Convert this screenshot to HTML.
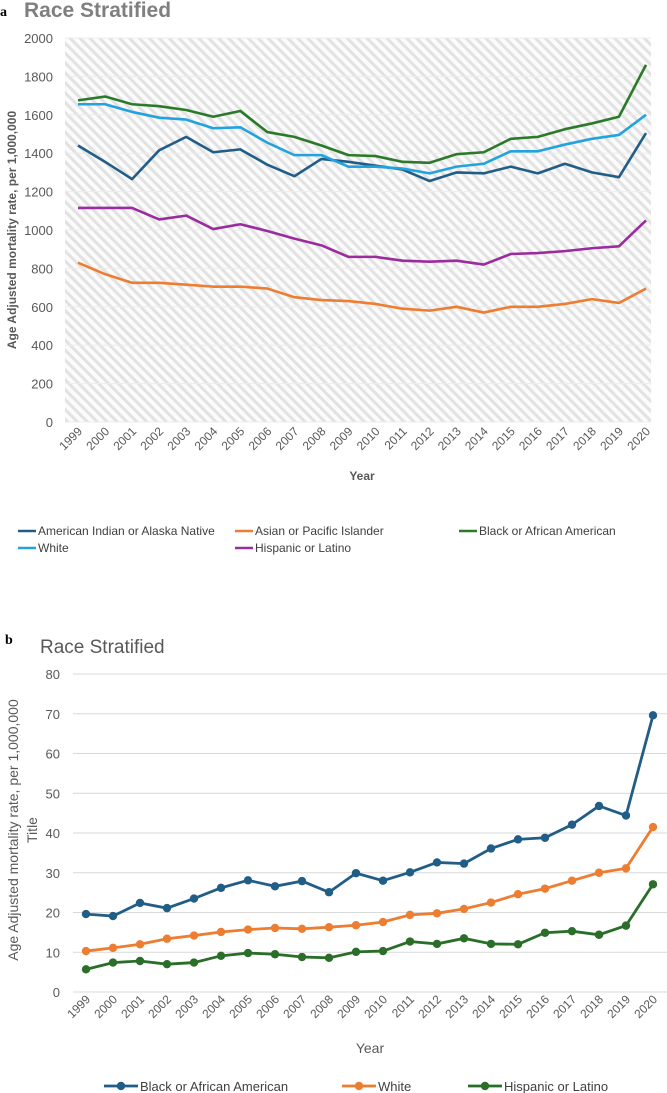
<!DOCTYPE html>
<html><head><meta charset="utf-8"><style>
body{margin:0;background:#fff;font-family:"Liberation Sans",sans-serif}
svg{display:block}
</style></head><body>
<svg id="s" width="667" height="1093" xmlns="http://www.w3.org/2000/svg">
<defs><pattern id="hatch" width="7" height="7" patternUnits="userSpaceOnUse" patternTransform="rotate(-45)">
<rect width="7" height="7" fill="#fbfbfb"/><rect x="0" y="0" width="3" height="7" fill="#e2e2e2"/></pattern></defs>
<text x="0" y="16" font-family="Liberation Serif" font-weight="bold" font-size="14" fill="#000">a</text>
<text x="24" y="17" font-size="21" font-weight="bold" fill="#7f7f7f">Race Stratified</text>
<text x="5" y="644" font-family="Liberation Serif" font-weight="bold" font-size="14" fill="#000">b</text>
<text x="40" y="653" font-size="19" fill="#595959">Race Stratified</text>
<g id="ga"></g><g id="gb"></g>
</svg>
<script>
const years=["1999","2000","2001","2002","2003","2004","2005","2006","2007","2008","2009","2010","2011","2012","2013","2014","2015","2016","2017","2018","2019","2020"];
const ticksA=[0,200,400,600,800,1000,1200,1400,1600,1800,2000];
const aian=[1440,1355,1265,1415,1485,1405,1420,1340,1280,1370,1355,1335,1315,1255,1300,1295,1330,1295,1345,1300,1275,1505];
const asian=[830,770,725,725,715,705,705,695,650,635,630,615,590,580,600,570,600,600,615,640,620,695];
const blackA=[1675,1695,1655,1645,1625,1590,1620,1510,1485,1440,1390,1385,1355,1350,1395,1405,1475,1485,1525,1555,1590,1860];
const whiteA=[1655,1655,1615,1585,1575,1530,1535,1455,1390,1390,1330,1330,1320,1295,1330,1345,1410,1410,1445,1475,1495,1600];
const hispA=[1115,1115,1115,1055,1075,1005,1030,995,955,920,860,860,840,835,840,820,875,880,890,905,915,1050];
const ticksB=[0,10,20,30,40,50,60,70,80];
const blackB=[19.6,19.1,22.4,21.1,23.5,26.2,28.1,26.6,27.9,25.1,29.9,28.0,30.1,32.6,32.3,36.1,38.4,38.8,42.1,46.8,44.4,69.6];
const whiteB=[10.3,11.1,12.0,13.4,14.2,15.1,15.7,16.1,15.9,16.3,16.8,17.6,19.4,19.8,20.9,22.5,24.6,26.0,28.0,30.0,31.1,41.5];
const hispB=[5.7,7.4,7.8,7.0,7.4,9.1,9.8,9.5,8.8,8.6,10.1,10.3,12.7,12.1,13.5,12.1,12.0,14.9,15.3,14.4,16.7,27.1];
const NS="http://www.w3.org/2000/svg";
function mk(p,t,a,txt){const e=document.createElementNS(NS,t);for(const k in a)e.setAttribute(k,a[k]);if(txt!=null)e.textContent=txt;p.appendChild(e);return e;}
// chart A
const ga=document.getElementById('ga');
const xa=i=>78+i*(646-78)/21, ya=v=>422-v*(422-38)/2000;
let e=mk(ga,'rect',{x:65,y:38,width:586,height:384,fill:'url(#hatch)'});

ticksA.forEach(t=>{e=mk(ga,'line',{x1:65,x2:651,y1:ya(t),y2:ya(t),stroke:'#ececec','stroke-width':1});

e=mk(ga,'text',{x:53,y:ya(t)+5,'text-anchor':'end','font-size':13,fill:'#595959'},t);
});
years.forEach((y,i)=>{e=mk(ga,'text',{x:0,y:0,'text-anchor':'end','font-size':12,fill:'#595959',transform:`translate(${xa(i)+5},${432}) rotate(-45)`},y);
});
e=mk(ga,'text',{x:362,y:480,'text-anchor':'middle','font-size':12,'font-weight':'bold',fill:'#595959'},'Year');

e=mk(ga,'text',{x:0,y:0,'text-anchor':'middle','font-size':12,'font-weight':'bold',fill:'#595959',transform:'translate(16,230) rotate(-90)'},'Age Adjusted mortality rate, per 1,000,000');

const serA=[[aian,'#215e87','american-indian'],[asian,'#ed7d31','asian-pacific'],[hispA,'#9b2c9d','hispanic'],[whiteA,'#22a3de','white'],[blackA,'#2a7a2a','black']];
serA.forEach(([d,c,n])=>{e=mk(ga,'polyline',{points:d.map((v,i)=>xa(i)+','+ya(v)).join(' '),fill:'none',stroke:c,'stroke-width':2.6,'stroke-linejoin':'round'});
});
const legA=[[18,531,'#215e87','American Indian or Alaska Native'],[235,531,'#ed7d31','Asian or Pacific Islander'],[459,531,'#2a7a2a','Black or African American'],[18,548,'#22a3de','White'],[235,548,'#9b2c9d','Hispanic or Latino']];
legA.forEach(([x,y,c,t])=>{const g=mk(ga,'g',{});
mk(g,'line',{x1:x,x2:x+18,y1:y,y2:y,stroke:c,'stroke-width':2.6});mk(g,'text',{x:x+20,y:y+4,'font-size':12,fill:'#404040'},t);});
// chart B
const gb=document.getElementById('gb');
const xb=i=>86+i*(653-86)/21, yb=v=>992-v*(992-674)/80;
ticksB.forEach(t=>{e=mk(gb,'line',{x1:73,x2:667,y1:yb(t),y2:yb(t),stroke:'#d9d9d9','stroke-width':1});

e=mk(gb,'text',{x:60,y:yb(t)+5,'text-anchor':'end','font-size':13,fill:'#595959'},t);
});
years.forEach((y,i)=>{e=mk(gb,'text',{x:0,y:0,'text-anchor':'end','font-size':12,fill:'#595959',transform:`translate(${xb(i)+5},${1000}) rotate(-45)`},y);
});
e=mk(gb,'text',{x:370,y:1053,'text-anchor':'middle','font-size':14,fill:'#595959'},'Year');

e=mk(gb,'text',{x:0,y:0,'text-anchor':'middle','font-size':14,fill:'#595959',transform:'translate(18,830) rotate(-90)'},'Age Adjusted mortality rate, per 1,000,000');

e=mk(gb,'text',{x:0,y:0,'text-anchor':'middle','font-size':14,fill:'#595959',transform:'translate(37,830) rotate(-90)'},'Title');

const serB=[[hispB,'#2a6e2a','hispanic'],[whiteB,'#ed7d31','white'],[blackB,'#215e87','black']];
serB.forEach(([d,c,n])=>{e=mk(gb,'polyline',{points:d.map((v,i)=>xb(i)+','+yb(v)).join(' '),fill:'none',stroke:c,'stroke-width':2.8});

d.forEach((v,i)=>{const p=mk(gb,'circle',{cx:xb(i),cy:yb(v),r:4.2,fill:c});
});});
const legB=[[104,'#215e87','Black or African American'],[342,'#ed7d31','White'],[468,'#2a6e2a','Hispanic or Latino']];
legB.forEach(([x,c,t])=>{const g=mk(gb,'g',{});
mk(g,'line',{x1:x,x2:x+34,y1:1086,y2:1086,stroke:c,'stroke-width':2.8});mk(g,'circle',{cx:x+17,cy:1086,r:4.2,fill:c});
mk(g,'text',{x:x+36,y:1091,'font-size':13,fill:'#404040'},t);});
</script>
</body></html>
